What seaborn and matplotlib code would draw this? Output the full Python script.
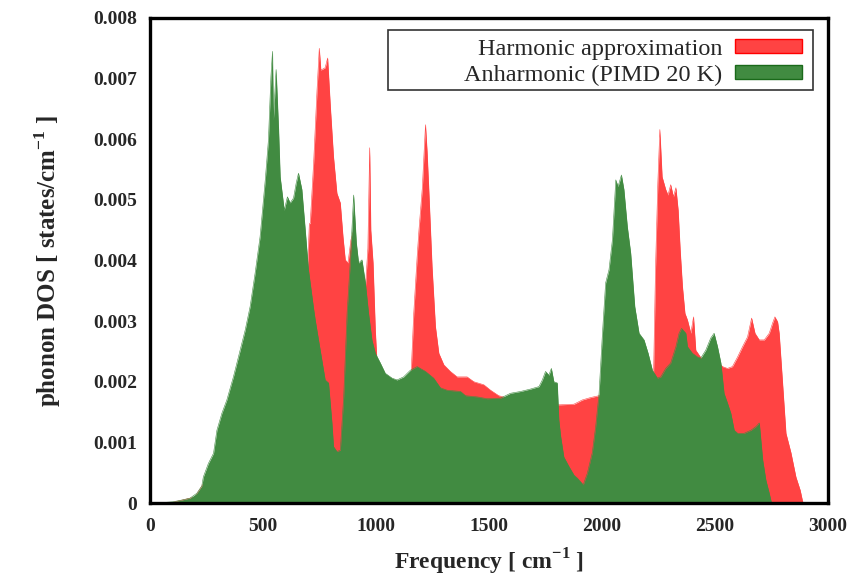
import numpy as np
import matplotlib
matplotlib.use("Agg")
import matplotlib.pyplot as plt
import seaborn as sns
from matplotlib.patches import Patch, Rectangle

# Anharmonic (PIMD 20 K) phonon DOS
anh_freq = [0, 66, 102, 142, 177, 207, 229, 236, 258, 281, 296, 318, 340, 369, 399,
            421, 443, 465, 487, 510, 524, 535, 542, 546, 558, 569, 576, 594, 608, 620,
            635, 647, 657, 672, 687, 701, 724, 731, 753, 775, 790, 805, 812, 827, 842,
            857, 872, 886, 901, 913, 923, 938, 953, 967, 982, 997, 1019, 1041, 1071, 1093,
            1122, 1152, 1182, 1219, 1255, 1285, 1315, 1374, 1396, 1448, 1492, 1551, 1595, 1640, 1684,
            1721, 1736, 1750, 1765, 1776, 1787, 1802, 1809, 1817, 1831, 1854, 1876, 1891, 1917, 1935,
            1957, 1972, 1987, 2002, 2016, 2031, 2046, 2061, 2071, 2086, 2097, 2112, 2127, 2145, 2164,
            2186, 2204, 2223, 2245, 2260, 2282, 2304, 2327, 2341, 2352, 2371, 2378, 2400, 2422, 2437,
            2459, 2481, 2496, 2511, 2526, 2540, 2555, 2570, 2585, 2600, 2629, 2659, 2681, 2696, 2711,
            2725, 2740, 2750]
anh_dos = [0.0, 0.00001, 0.00002, 0.00005, 0.00008, 0.00016, 0.00028, 0.00043, 0.00065, 0.00082,
           0.0012, 0.00148, 0.0017, 0.00208, 0.00252, 0.00285, 0.00324, 0.00379, 0.00439, 0.00533,
           0.00599, 0.00703, 0.00745, 0.00632, 0.00715, 0.00616, 0.00538, 0.00483, 0.00505, 0.00495,
           0.00503, 0.00528, 0.00544, 0.00517, 0.0045, 0.00385, 0.0032, 0.00302, 0.00252, 0.00203,
           0.00198, 0.00132, 0.00093, 0.00085, 0.00087, 0.00175, 0.00313, 0.00396, 0.00508, 0.00429,
           0.00396, 0.00401, 0.00363, 0.00313, 0.00269, 0.00247, 0.00231, 0.00214, 0.00206, 0.00203,
           0.00208, 0.00219, 0.00225, 0.00217, 0.00206, 0.0019, 0.00186, 0.00184, 0.00177, 0.00175,
           0.00172, 0.00173, 0.00181, 0.00184, 0.00188, 0.00192, 0.00203, 0.00217, 0.00211, 0.00222,
           0.002, 0.00198, 0.00137, 0.0011, 0.00076, 0.0006, 0.00046, 0.00041, 0.0003, 0.00049,
           0.00083, 0.00126, 0.00181, 0.0028, 0.00363, 0.00385, 0.00434, 0.00533, 0.00522, 0.00541,
           0.00517, 0.00456, 0.00412, 0.00324, 0.0028, 0.00269, 0.00247, 0.00219, 0.00206, 0.00208,
           0.00222, 0.00231, 0.00258, 0.0028, 0.00288, 0.0028, 0.00258, 0.00247, 0.00241, 0.00239,
           0.00252, 0.00272, 0.0028, 0.00258, 0.00231, 0.00181, 0.00165, 0.00148, 0.0012, 0.00115,
           0.00115, 0.0012, 0.00126, 0.00132, 0.00071, 0.00038, 0.00016, 0.0]

# Harmonic approximation phonon DOS (only partly visible behind the green area)
harm_freq = [0, 100, 200, 250, 300, 350, 400, 450, 500, 540, 600, 650, 690, 705, 709,
             724, 739, 749, 756, 775, 786, 798, 812, 827, 842, 854, 864, 876, 889, 901,
             913, 923, 938, 953, 964, 972, 977, 987, 997, 1006, 1050, 1100, 1140, 1155, 1167,
             1182, 1190, 1205, 1213, 1219, 1226, 1233, 1248, 1263, 1278, 1300, 1329, 1359, 1403, 1433,
             1477, 1507, 1543, 1573, 1600, 1700, 1780, 1809, 1817, 1876, 1913, 1950, 1987, 2000, 2050,
             2100, 2150, 2200, 2228, 2237, 2247, 2256, 2266, 2282, 2292, 2304, 2316, 2327, 2337, 2346,
             2356, 2367, 2378, 2393, 2405, 2415, 2437, 2460, 2500, 2526, 2533, 2555, 2577, 2600, 2622,
             2644, 2662, 2677, 2696, 2718, 2740, 2755, 2765, 2777, 2784, 2799, 2814, 2836, 2858, 2877,
             2888, 2895]
harm_dos = [0.0, 0.00001, 0.0001, 0.0004, 0.0009, 0.0014, 0.002, 0.0027, 0.0035, 0.004,
            0.004, 0.0038, 0.0032, 0.0046, 0.00462, 0.00561, 0.00681, 0.0075, 0.00714, 0.00718,
            0.00734, 0.00654, 0.00571, 0.00511, 0.00495, 0.00439, 0.00401, 0.00396, 0.00434, 0.0045,
            0.0041, 0.0039, 0.0039, 0.00355, 0.0042, 0.00586, 0.0045, 0.00396, 0.00285, 0.0022,
            0.0019, 0.0018, 0.0019, 0.0021, 0.00313, 0.00406, 0.0045, 0.0052, 0.0058, 0.00624,
            0.0058, 0.00522, 0.0039, 0.00291, 0.00247, 0.00228, 0.00217, 0.00208, 0.00208, 0.002,
            0.00195, 0.00186, 0.00177, 0.00174, 0.0017, 0.0017, 0.0016, 0.00162, 0.00162, 0.00163,
            0.0017, 0.00174, 0.00177, 0.0018, 0.0019, 0.002, 0.002, 0.002, 0.0021, 0.0039,
            0.00528, 0.00616, 0.00538, 0.00517, 0.00508, 0.00525, 0.00505, 0.0052, 0.00483, 0.00417,
            0.00357, 0.00313, 0.00302, 0.0028, 0.00307, 0.00252, 0.0024, 0.0023, 0.0023, 0.00228,
            0.00225, 0.00222, 0.00225, 0.00241, 0.00258, 0.00274, 0.00305, 0.0028, 0.00269, 0.00269,
            0.0028, 0.00297, 0.00307, 0.00299, 0.0028, 0.00198, 0.00115, 0.00083, 0.00043, 0.00021,
            0.00002, 0.0]

x_ticks = [0, 500, 1000, 1500, 2000, 2500, 3000]
y_ticks = [0, 0.001, 0.002, 0.003, 0.004, 0.005, 0.006, 0.007, 0.008]
y_ticklabels = ["0", "0.001", "0.002", "0.003", "0.004", "0.005", "0.006", "0.007", "0.008"]
labels = ["Harmonic approximation", "Anharmonic (PIMD 20 K)"]

red = "#ff4343"
green = "#418b41"

sns.set_style("white")
plt.rcParams["font.family"] = ["Liberation Serif", "DejaVu Serif"]
plt.rcParams["mathtext.fontset"] = "custom"
plt.rcParams["mathtext.rm"] = "Liberation Serif"
plt.rcParams["mathtext.bf"] = "Liberation Serif:bold"

fig = plt.figure(figsize=(8.53, 5.79), dpi=100)
ax = fig.add_axes([150 / 853, 1 - 503 / 579, 678 / 853, 485 / 579])

# harmonic drawn first, anharmonic on top
ax.fill_between(harm_freq, harm_dos, 0, color=red, linewidth=0, zorder=1)
sns.lineplot(x=harm_freq, y=harm_dos, ax=ax, color=red, linewidth=0.4, zorder=1.1)
ax.fill_between(anh_freq, anh_dos, 0, color=green, linewidth=0, zorder=2)
sns.lineplot(x=anh_freq, y=anh_dos, ax=ax, color=green, linewidth=0.4, zorder=2.1)

ax.set_xlim(0, 3000)
ax.set_ylim(0, 0.008)
ax.set_xticks(x_ticks)
ax.set_xticklabels([str(t) for t in x_ticks], fontsize=14, fontweight="bold")
ax.set_yticks(y_ticks)
ax.set_yticklabels(y_ticklabels, fontsize=14, fontweight="bold")
ax.tick_params(axis="both", direction="in", length=6, width=1.5, pad=9)
ax.tick_params(axis="x", pad=11)

for s in ax.spines.values():
    s.set_linewidth(2.4)
    s.set_color("black")
    s.set_zorder(5)

ax.set_xlabel(r"Frequency [ cm$^{\mathbf{-1}}$ ]", fontsize=17, fontweight="bold", labelpad=8)
ax.set_ylabel(r"phonon DOS [ states/cm$^{\mathbf{-1}}$ ]", fontsize=18, fontweight="bold", labelpad=22)

# legend box (gnuplot style, wide frame)
ax.add_patch(Rectangle((0.351, 0.8515), 0.627, 0.1235, transform=ax.transAxes,
                       facecolor="white", edgecolor="#333333", linewidth=1.2, zorder=6))
handles = [Patch(facecolor=red, edgecolor="#ff0000", linewidth=1.0),
           Patch(facecolor=green, edgecolor="#1a6a1a", linewidth=1.0)]
leg = ax.legend(handles, labels, loc="upper right", bbox_to_anchor=(0.961, 0.957),
                borderaxespad=0, borderpad=0, frameon=False, markerfirst=False,
                fontsize=17.5, handlelength=2.75, handleheight=0.5, handletextpad=0.5,
                labelspacing=0.2)
leg.set_zorder(7)

fig.savefig("out.png", dpi=100)
